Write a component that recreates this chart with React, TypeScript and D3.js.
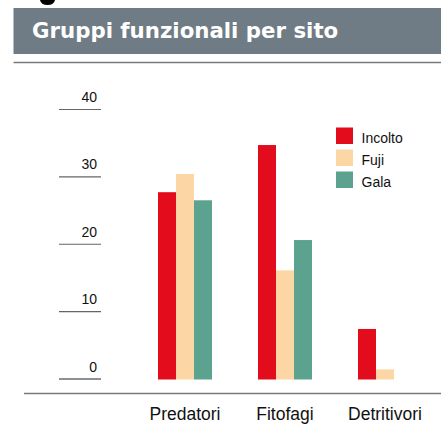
import * as d3 from "d3"

const categories = ["Predatori", "Fitofagi", "Detritivori"]
const series = ["Incolto", "Fuji", "Gala"]
const incolto = [27.8, 34.8, 7.5]
const fuji = [30.5, 16.2, 1.5]
const gala = [26.6, 20.7, 0]
const yTicks = [0, 10, 20, 30, 40]
const colors = ["#e20c1c", "#fcd6a4", "#5ca38f"]

const values = [incolto, fuji, gala]

export default function App() {
  const width = 441
  const height = 425

  const x = d3.scaleBand().domain(categories).range([135, 435]).paddingInner(0.46).paddingOuter(0.23)
  const x1 = d3.scaleBand().domain(series).range([0, x.bandwidth()])
  const y = d3.scaleLinear().domain([0, 40]).range([379.5, 110])

  return (
    <svg width={width} height={height} style={{ position: "absolute", left: 0, top: 0 }}
      fontFamily="'Liberation Sans', Arial, sans-serif">
      {/* leftover descender from the heading above */}
      <path d="M40,0 Q41,5 47.5,5 Q54,5 55,0 Z" fill="#000" />

      {/* title bar */}
      <rect x={13.5} y={8} width={width - 13.5} height={46} fill="#6f7c85" />
      <text x={32} y={38} fill="#fff" fontFamily="'DejaVu Sans', sans-serif" fontWeight="bold" fontSize={21.3}>
        Gruppi funzionali per sito
      </text>
      <line x1={13.5} x2={width} y1={62.5} y2={62.5} stroke="#7a7a7a" strokeWidth={1.5} />

      {/* y ticks */}
      {yTicks.map(t => (
        <g key={t}>
          <line x1={59} x2={101} y1={y(t) - 0.5} y2={y(t) - 0.5} stroke={t === 0 ? "#222" : "#666"} strokeWidth={1.2} />
          <text x={97} y={y(t) - 8} textAnchor="end" fontSize={14} fill="#111">{t}</text>
        </g>
      ))}

      {/* bars */}
      {categories.map((c, i) => (
        <g key={c} transform={`translate(${x(c)},0)`}>
          {series.map((s, j) => (
            values[j][i] > 0 ? (
              <rect key={s} x={x1(s)} width={x1.bandwidth()} y={y(values[j][i])}
                height={y(0) - y(values[j][i])} fill={colors[j]} />
            ) : null
          ))}
        </g>
      ))}

      {/* bottom rule */}
      <line x1={24} x2={width} y1={393.5} y2={393.5} stroke="#7a7a7a" strokeWidth={1.5} />

      {/* category labels */}
      {categories.map(c => (
        <text key={c} x={(x(c) as number) + x.bandwidth() / 2} y={420} textAnchor="middle" fontSize={17.5} fill="#111">{c}</text>
      ))}

      {/* legend */}
      {series.map((s, j) => (
        <g key={s} transform={`translate(336,${127.5 + j * 22})`}>
          <rect width={17} height={16.5} fill={colors[j]} />
          <text x={25.5} y={15} fontSize={14} fill="#111">{s}</text>
        </g>
      ))}
    </svg>
  )
}
